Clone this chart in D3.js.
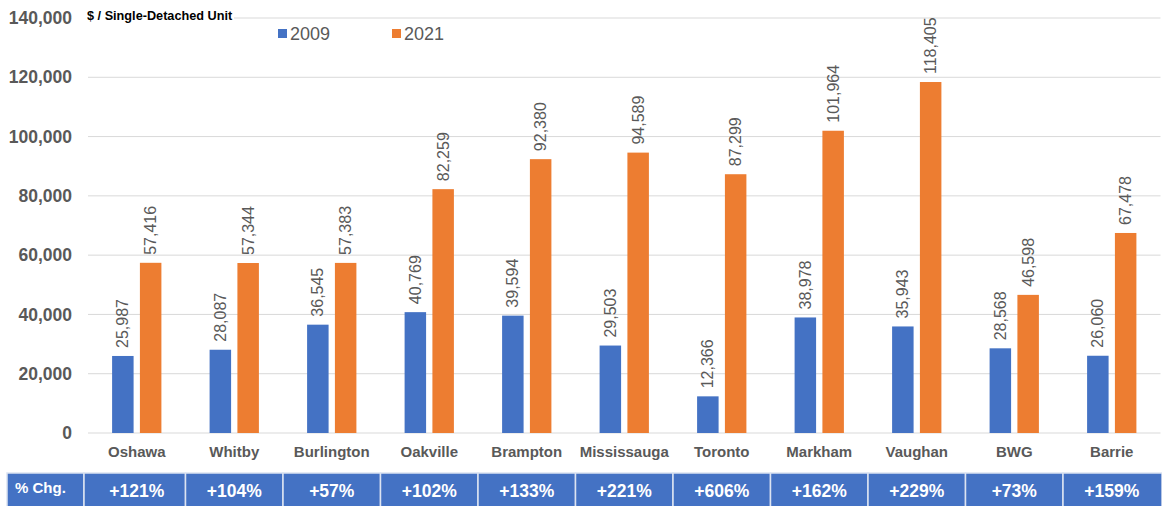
<!DOCTYPE html>
<html>
<head>
<meta charset="utf-8">
<script src="https://cdn.jsdelivr.net/npm/d3@7"></script>
<style>
  html, body { margin: 0; padding: 0; background: #fff; }
  svg { display: block; font-family: "Liberation Sans", Arial, sans-serif; }
</style>
</head>
<body>
<svg id="chart" width="1162" height="506"></svg>
<script>
const categories = ["Oshawa", "Whitby", "Burlington", "Oakville", "Brampton", "Mississauga", "Toronto", "Markham", "Vaughan", "BWG", "Barrie"];
const seriesNames = ["2009", "2021"];
const values2009 = [25987, 28087, 36545, 40769, 39594, 29503, 12366, 38978, 35943, 28568, 26060];
const values2021 = [57416, 57344, 57383, 82259, 92380, 94589, 87299, 101964, 118405, 46598, 67478];
const pctChange = ["+121%", "+104%", "+57%", "+102%", "+133%", "+221%", "+606%", "+162%", "+229%", "+73%", "+159%"];
const yTicks = [0, 20000, 40000, 60000, 80000, 100000, 120000, 140000];
const unitTitle = "$ / Single-Detached Unit";
const tableHeader = "% Chg.";

(function () {
const colors = { "2009": "#4472C4", "2021": "#ED7D31" };
const gray = "#595959";

const svg = d3.select("#chart");
const pLeft = 88, pRight = 1160.5, pTop = 18, pBottom = 433;

const x = d3.scaleBand().domain(categories).range([pLeft, pRight]).padding(0);
const x1 = d3.scaleBand().domain(seriesNames).range([-24.65, 24.65]).paddingInner(0.227).paddingOuter(0);
const y = d3.scaleLinear().domain([0, 140000]).range([pBottom, pTop]);

// gridlines
svg.append("g").selectAll("line").data(yTicks).join("line")
  .attr("x1", pLeft).attr("x2", pRight)
  .attr("y1", d => y(d)).attr("y2", d => y(d))
  .attr("stroke", "#d9d9d9").attr("stroke-width", 1);

// y axis labels
const yAxis = d3.axisLeft(y).tickValues(yTicks).tickFormat(d3.format(",")).tickSize(0).tickPadding(0);
const ya = svg.append("g").attr("transform", "translate(72,0)").call(yAxis);
ya.select(".domain").remove();
ya.selectAll("text")
  .attr("font-family", "Liberation Sans, Arial, sans-serif")
  .attr("font-size", "17.5px").attr("font-weight", "bold").attr("fill", gray);

// title with white background
const tg = svg.append("g");
tg.append("rect").attr("x", 84).attr("y", 8).attr("width", 150).attr("height", 18).attr("fill", "#fff");
tg.append("text").attr("x", 87).attr("y", 20)
  .attr("font-size", "12.7px").attr("font-weight", "bold").attr("fill", "#000")
  .text(unitTitle);

// legend
const legendX = [278, 392];
const lg = svg.append("g").selectAll("g").data(seriesNames).join("g")
  .attr("transform", (d, i) => `translate(${legendX[i]},29)`);
lg.append("rect").attr("width", 9).attr("height", 9).attr("fill", d => colors[d]);
lg.append("text").attr("x", 12).attr("y", 4.5).attr("dy", "0.35em")
  .attr("font-size", "18px").attr("fill", gray).text(d => d);

// bars
const data = categories.map((c, i) => ({ cat: c, vals: [
  { s: "2009", v: values2009[i] },
  { s: "2021", v: values2021[i] }
]}));

const groups = svg.append("g").selectAll("g").data(data).join("g")
  .attr("transform", d => `translate(${x(d.cat) + x.bandwidth() / 2},0)`);

groups.selectAll("rect").data(d => d.vals).join("rect")
  .attr("x", d => x1(d.s))
  .attr("width", x1.bandwidth())
  .attr("y", d => y(d.v))
  .attr("height", d => y(0) - y(d.v))
  .attr("fill", d => colors[d.s]);

groups.selectAll("text").data(d => d.vals).join("text")
  .attr("transform", d => `translate(${x1(d.s) + x1.bandwidth() / 2},${y(d.v) - 8}) rotate(-90)`)
  .attr("dy", "0.35em")
  .attr("text-anchor", "start")
  .attr("font-size", "16px").attr("fill", gray)
  .text(d => d3.format(",")(d.v));

// category labels
svg.append("g").selectAll("text").data(categories).join("text")
  .attr("x", d => x(d) + x.bandwidth() / 2)
  .attr("y", 457)
  .attr("text-anchor", "middle")
  .attr("font-size", "15px").attr("font-weight", "bold").attr("fill", gray)
  .text(d => d);

// table row
const tableTop = 473, tableH = 34;
const tbl = svg.append("g");
const cells = [{ x0: 7, x1: pLeft - 4, label: tableHeader, header: true }]
  .concat(categories.map((c, i) => ({ x0: i === 0 ? pLeft - 4 : x(c), x1: x(c) + x.bandwidth(), label: pctChange[i], header: false })));
cells[cells.length - 1].x1 = 1162;
tbl.selectAll("rect").data(cells).join("rect")
  .attr("x", d => d.x0).attr("y", tableTop)
  .attr("width", d => d.x1 - d.x0).attr("height", tableH)
  .attr("fill", "#4472C4").attr("stroke", "#dce3f1").attr("stroke-width", 1.5);
tbl.selectAll("text").data(cells).join("text")
  .attr("x", (d, i) => d.header ? 15 : x(categories[i - 1]) + x.bandwidth() / 2)
  .attr("y", d => d.header ? 488 : 491)
  .attr("dy", "0.35em")
  .attr("text-anchor", d => d.header ? "start" : "middle")
  .attr("font-size", d => d.header ? "15px" : "17.5px")
  .attr("font-weight", "bold").attr("fill", "#fff")
  .text(d => d.label);
})();
</script>
</body>
</html>
